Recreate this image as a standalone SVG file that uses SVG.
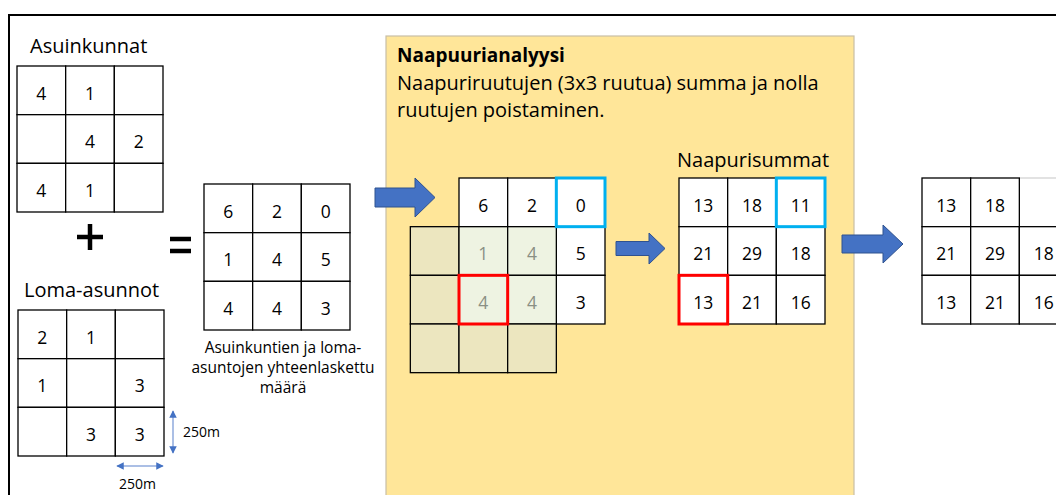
<svg xmlns="http://www.w3.org/2000/svg" width="1056" height="495" viewBox="0 0 1056 495">
  <style>
    text { font-family: "Open Sans", "Noto Sans", "Liberation Sans", sans-serif; fill: #000; }
    .title { font-size: 20px; }
    .num { font-size: 17.5px; text-anchor: middle; }
    .dim-num { font-size: 17.5px; text-anchor: middle; fill: #8a8f84; }
    .cap { font-size: 15.5px; text-anchor: middle; }
    .small { font-size: 14px; }
    .cell { fill: #fff; stroke: #000; stroke-width: 1.3; }
    .pad { fill: #ECE6BF; stroke: #000; stroke-width: 1.3; }
    .pad-in { fill: #EEF3E2; stroke: #000; stroke-width: 1.3; }
    .hl-blue { fill: none; stroke: #00B0F0; stroke-width: 3; }
    .hl-red { fill: none; stroke: #FF0000; stroke-width: 3; }
    .block-arrow { fill: #4472C4; stroke: #2F528F; stroke-width: 1; }
    .dim { stroke: #8FAADC; stroke-width: 1.5; fill: none; marker-start: url(#dimHead); marker-end: url(#dimHead); }
  </style>
  <defs>
    <marker id="dimHead" viewBox="0 0 10 10" refX="9" refY="5" markerWidth="5" markerHeight="5" orient="auto-start-reverse" markerUnits="strokeWidth">
      <path d="M0,0 L10,5 L0,10 Z" fill="#4472C4"/>
    </marker>
  </defs>

  <!-- page frame -->
  <path d="M9,495 V15 H1056" fill="none" stroke="#000" stroke-width="2"/>

  <!-- neighbourhood analysis panel -->
  <g id="panel">
    <rect x="386" y="36" width="468" height="470" fill="#FFE699" stroke="#C8BFA6" stroke-width="1.2"/>
    <text x="397" y="62" style="font-size:19px;font-weight:bold">Naapuurianalyysi</text>
    <text x="397" y="90" class="title">Naapuriruutujen (3x3 ruutua) summa ja nolla</text>
    <text x="397" y="117" class="title">ruutujen poistaminen.</text>
  </g>

  <!-- residential counts -->
  <g id="asuinkunnat">
    <text x="30" y="53" class="title">Asuinkunnat</text>
    <rect class="cell" x="17" y="66" width="48.67" height="48.67"/>
    <rect class="cell" x="65.67" y="66" width="48.67" height="48.67"/>
    <rect class="cell" x="114.33" y="66" width="48.67" height="48.67"/>
    <rect class="cell" x="17" y="114.67" width="48.67" height="48.67"/>
    <rect class="cell" x="65.67" y="114.67" width="48.67" height="48.67"/>
    <rect class="cell" x="114.33" y="114.67" width="48.67" height="48.67"/>
    <rect class="cell" x="17" y="163.33" width="48.67" height="48.67"/>
    <rect class="cell" x="65.67" y="163.33" width="48.67" height="48.67"/>
    <rect class="cell" x="114.33" y="163.33" width="48.67" height="48.67"/>
    <text class="num" x="41.3" y="99.6">4</text>
    <text class="num" x="90" y="99.6">1</text>
    <text class="num" x="90" y="148.3">4</text>
    <text class="num" x="138.7" y="148.3">2</text>
    <text class="num" x="41.3" y="197">4</text>
    <text class="num" x="90" y="197">1</text>
  </g>

  <!-- operators -->
  <g id="plus">
    <path d="M90,224 V250 M77,237 H103" stroke="#000" stroke-width="4.5" fill="none"/>
  </g>
  <g id="equals">
    <path d="M170,239 H191 M170,251 H191" stroke="#000" stroke-width="4.5" fill="none"/>
  </g>

  <!-- holiday homes -->
  <g id="loma-asunnot">
    <text x="24" y="297" class="title">Loma-asunnot</text>
    <rect class="cell" x="18" y="310" width="48.67" height="48.67"/>
    <rect class="cell" x="66.67" y="310" width="48.67" height="48.67"/>
    <rect class="cell" x="115.33" y="310" width="48.67" height="48.67"/>
    <rect class="cell" x="18" y="358.67" width="48.67" height="48.67"/>
    <rect class="cell" x="66.67" y="358.67" width="48.67" height="48.67"/>
    <rect class="cell" x="115.33" y="358.67" width="48.67" height="48.67"/>
    <rect class="cell" x="18" y="407.33" width="48.67" height="48.67"/>
    <rect class="cell" x="66.67" y="407.33" width="48.67" height="48.67"/>
    <rect class="cell" x="115.33" y="407.33" width="48.67" height="48.67"/>
    <text class="num" x="42.3" y="343.6">2</text>
    <text class="num" x="91" y="343.6">1</text>
    <text class="num" x="42.3" y="392.3">1</text>
    <text class="num" x="139.7" y="392.3">3</text>
    <text class="num" x="91" y="441">3</text>
    <text class="num" x="139.7" y="441">3</text>
  </g>

  <!-- cell size dimensions -->
  <g id="dimensions">
    <line class="dim" x1="173" y1="411" x2="173" y2="453"/>
    <text class="small" x="183" y="437">250m</text>
    <line class="dim" x1="117" y1="466" x2="163" y2="466"/>
    <text class="small" x="137.5" y="489" text-anchor="middle">250m</text>
  </g>

  <!-- combined counts -->
  <g id="yhteensa">
    <rect class="cell" x="204" y="184" width="48.67" height="48.67"/>
    <rect class="cell" x="252.67" y="184" width="48.67" height="48.67"/>
    <rect class="cell" x="301.33" y="184" width="48.67" height="48.67"/>
    <rect class="cell" x="204" y="232.67" width="48.67" height="48.67"/>
    <rect class="cell" x="252.67" y="232.67" width="48.67" height="48.67"/>
    <rect class="cell" x="301.33" y="232.67" width="48.67" height="48.67"/>
    <rect class="cell" x="204" y="281.33" width="48.67" height="48.67"/>
    <rect class="cell" x="252.67" y="281.33" width="48.67" height="48.67"/>
    <rect class="cell" x="301.33" y="281.33" width="48.67" height="48.67"/>
    <text class="num" x="228.3" y="217.6">6</text>
    <text class="num" x="277" y="217.6">2</text>
    <text class="num" x="325.7" y="217.6">0</text>
    <text class="num" x="228.3" y="266.3">1</text>
    <text class="num" x="277" y="266.3">4</text>
    <text class="num" x="325.7" y="266.3">5</text>
    <text class="num" x="228.3" y="315">4</text>
    <text class="num" x="277" y="315">4</text>
    <text class="num" x="325.7" y="315">3</text>
    <text class="cap" x="283" y="353">Asuinkuntien ja loma-</text>
    <text class="cap" x="283" y="373">asuntojen yhteenlaskettu</text>
    <text class="cap" x="283" y="393">määrä</text>
  </g>

  <!-- moving 3x3 window over the combined grid -->
  <g id="ikkuna">
    <rect class="cell" x="459" y="178" width="48.67" height="48.67"/>
    <rect class="cell" x="507.67" y="178" width="48.67" height="48.67"/>
    <rect class="cell" x="556.33" y="178" width="48.67" height="48.67"/>
    <rect class="cell" x="556.33" y="226.67" width="48.67" height="48.67"/>
    <rect class="cell" x="556.33" y="275.33" width="48.67" height="48.67"/>
    <rect class="pad" x="410.33" y="226.67" width="48.67" height="48.67"/>
    <rect class="pad-in" x="459" y="226.67" width="48.67" height="48.67"/>
    <rect class="pad-in" x="507.67" y="226.67" width="48.67" height="48.67"/>
    <rect class="pad" x="410.33" y="275.33" width="48.67" height="48.67"/>
    <rect class="pad-in" x="459" y="275.33" width="48.67" height="48.67"/>
    <rect class="pad-in" x="507.67" y="275.33" width="48.67" height="48.67"/>
    <rect class="pad" x="410.33" y="324" width="48.67" height="48.67"/>
    <rect class="pad" x="459" y="324" width="48.67" height="48.67"/>
    <rect class="pad" x="507.67" y="324" width="48.67" height="48.67"/>
    <text class="num" x="483.3" y="211.6">6</text>
    <text class="num" x="532" y="211.6">2</text>
    <text class="num" x="580.7" y="211.6">0</text>
    <text class="dim-num" x="483.3" y="260.3">1</text>
    <text class="dim-num" x="532" y="260.3">4</text>
    <text class="num" x="580.7" y="260.3">5</text>
    <text class="dim-num" x="483.3" y="309">4</text>
    <text class="dim-num" x="532" y="309">4</text>
    <text class="num" x="580.7" y="309">3</text>
    <rect class="hl-blue" x="556.33" y="178" width="48.67" height="48.67"/>
    <rect class="hl-red" x="459" y="275.33" width="48.67" height="48.67"/>
  </g>

  <!-- neighbourhood sums -->
  <g id="naapurisummat">
    <text x="677" y="167" class="title">Naapurisummat</text>
    <rect class="cell" x="679" y="178" width="48.67" height="48.67"/>
    <rect class="cell" x="727.67" y="178" width="48.67" height="48.67"/>
    <rect class="cell" x="776.33" y="178" width="48.67" height="48.67"/>
    <rect class="cell" x="679" y="226.67" width="48.67" height="48.67"/>
    <rect class="cell" x="727.67" y="226.67" width="48.67" height="48.67"/>
    <rect class="cell" x="776.33" y="226.67" width="48.67" height="48.67"/>
    <rect class="cell" x="679" y="275.33" width="48.67" height="48.67"/>
    <rect class="cell" x="727.67" y="275.33" width="48.67" height="48.67"/>
    <rect class="cell" x="776.33" y="275.33" width="48.67" height="48.67"/>
    <text class="num" x="703.3" y="211.6">13</text>
    <text class="num" x="752" y="211.6">18</text>
    <text class="num" x="800.7" y="211.6">11</text>
    <text class="num" x="703.3" y="260.3">21</text>
    <text class="num" x="752" y="260.3">29</text>
    <text class="num" x="800.7" y="260.3">18</text>
    <text class="num" x="703.3" y="309">13</text>
    <text class="num" x="752" y="309">21</text>
    <text class="num" x="800.7" y="309">16</text>
    <rect class="hl-blue" x="776.33" y="178" width="48.67" height="48.67"/>
    <rect class="hl-red" x="679" y="275.33" width="48.67" height="48.67"/>
  </g>

  <!-- result after removing zero cells -->
  <g id="tulos">
    <line x1="1019.33" y1="178" x2="1056" y2="178" stroke="#D9D9D9" stroke-width="1.3"/>
    <rect class="cell" x="922" y="178" width="48.67" height="48.67"/>
    <rect class="cell" x="970.67" y="178" width="48.67" height="48.67"/>
    <rect class="cell" x="922" y="226.67" width="48.67" height="48.67"/>
    <rect class="cell" x="970.67" y="226.67" width="48.67" height="48.67"/>
    <rect class="cell" x="1019.33" y="226.67" width="48.67" height="48.67"/>
    <rect class="cell" x="922" y="275.33" width="48.67" height="48.67"/>
    <rect class="cell" x="970.67" y="275.33" width="48.67" height="48.67"/>
    <rect class="cell" x="1019.33" y="275.33" width="48.67" height="48.67"/>
    <text class="num" x="946.3" y="211.6">13</text>
    <text class="num" x="995" y="211.6">18</text>
    <text class="num" x="946.3" y="260.3">21</text>
    <text class="num" x="995" y="260.3">29</text>
    <text class="num" x="1043.7" y="260.3">18</text>
    <text class="num" x="946.3" y="309">13</text>
    <text class="num" x="995" y="309">21</text>
    <text class="num" x="1043.7" y="309">16</text>
  </g>

  <!-- process arrows -->
  <g id="connectors">
    <path class="block-arrow" d="M375,188 H415 V178 L435,197.5 L415,217 V207 H375 Z"/>
    <path class="block-arrow" d="M616,241.5 H649 V233 L665,248.5 L649,264 V255.5 H616 Z"/>
    <path class="block-arrow" d="M842,235 H883 V225 L903,244 L883,263 V253 H842 Z"/>
  </g>
</svg>
